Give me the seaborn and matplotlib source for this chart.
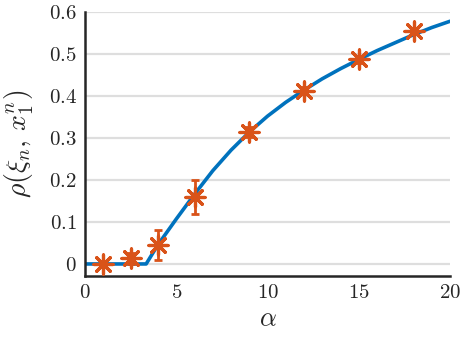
import numpy as np
import pandas as pd
import matplotlib
matplotlib.use("Agg")
import matplotlib.pyplot as plt
import seaborn as sns

# theory curve
curve_alpha = [0, 1, 2, 3, 3.35, 4, 5, 6, 7, 8, 9, 10, 11, 12, 13, 14, 15, 16, 17, 18, 19, 20]
curve_rho = [0, 0, 0, 0, 0, 0.046, 0.107, 0.166, 0.222, 0.271, 0.314, 0.352, 0.385, 0.414,
             0.441, 0.465, 0.487, 0.508, 0.527, 0.546, 0.563, 0.578]

# simulation points with error bars
pt_alpha = [1, 2.5, 4, 6, 9, 12, 15, 18]
pt_rho = [0.0, 0.013, 0.045, 0.160, 0.315, 0.413, 0.487, 0.555]
pt_err = [0.004, 0.012, 0.036, 0.040, 0.012, 0.008, 0.008, 0.008]

xticks = [0, 5, 10, 15, 20]
yticks = [0, 0.1, 0.2, 0.3, 0.4, 0.5, 0.6]
xticklabels = ["0", "5", "10", "15", "20"]
yticklabels = ["0", "0.1", "0.2", "0.3", "0.4", "0.5", "0.6"]

sns.set_style("white")
plt.rcParams["mathtext.fontset"] = "cm"
plt.rcParams["font.family"] = ["serif"]
plt.rcParams["font.serif"] = ["cmr10", "DejaVu Serif"]
plt.rcParams["axes.formatter.use_mathtext"] = True

blue = "#0072BD"
orange = "#D95319"

fig = plt.figure(figsize=(4.63, 3.48), dpi=100)
ax = fig.add_axes([0.1836, 0.207, 0.972 - 0.1836, 0.9655 - 0.207])

df_c = pd.DataFrame({"alpha": curve_alpha, "rho": curve_rho})
df_p = pd.DataFrame({"alpha": pt_alpha, "rho": pt_rho, "err": pt_err})

for y in yticks:
    ax.axhline(y, color="#dedede", lw=1.6, zorder=0)

sns.lineplot(data=df_c, x="alpha", y="rho", color=blue, lw=2.6, ax=ax, zorder=2)
ax.errorbar(df_p["alpha"], df_p["rho"], yerr=df_p["err"], fmt="none",
            ecolor=orange, elinewidth=2, capsize=3, capthick=2, zorder=3)
sns.scatterplot(data=df_p, x="alpha", y="rho", marker=(8, 2, 0), s=190,
                color=orange, edgecolor=orange, linewidth=2.3, ax=ax, zorder=4)

ax.set_xlim(0, 20)
ax.set_ylim(-0.0286, 0.6)
ax.set_xticks(xticks)
ax.set_yticks(yticks)
ax.set_xticklabels(["$%s$" % t for t in xticklabels], fontsize=15)
ax.set_yticklabels(["$%s$" % t for t in yticklabels], fontsize=15)
ax.set_xlabel(r"$\alpha$", fontsize=19, labelpad=4)
ax.set_ylabel(r"$\rho(\xi_n,\,x_1^n)$", fontsize=20, labelpad=9)

for s in ["top", "right"]:
    ax.spines[s].set_visible(False)
for s in ["left", "bottom"]:
    ax.spines[s].set_linewidth(1.8)
    ax.spines[s].set_color("#262626")
ax.tick_params(direction="in", length=5, width=1.5, color="#262626", pad=6)

fig.savefig("out.png", dpi=100)
